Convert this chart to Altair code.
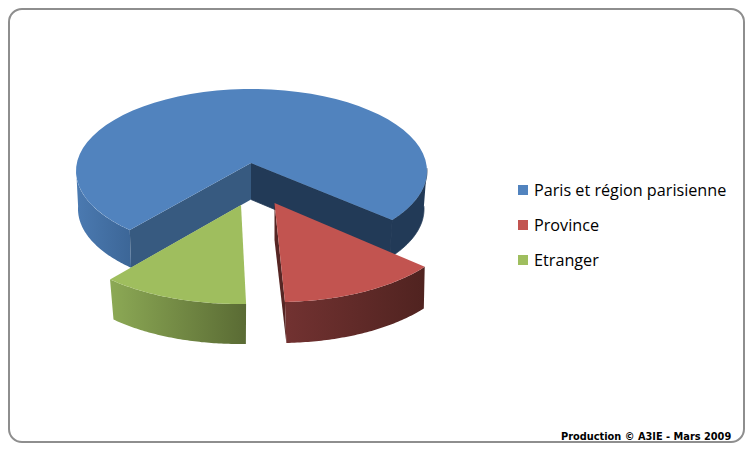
import numpy as np
import pandas as pd
import altair as alt

# --- values
categories = ["Paris et région parisienne", "Province", "Etranger"]
shares = [73.0, 14.2, 12.8]
colors = ["#5183BE", "#C25450", "#9FBE5E"]
credit = ["Production © A3IE - Mars 2009"]

W, H = 745, 443
START = 133.9
xs = alt.Scale(domain=[8, W], range=[0, W - 8], nice=False, zero=False)
ys = alt.Scale(domain=[H, 8], range=[H - 8, 0], nice=False, zero=False)


def arc(c, r, a, b, n=60):
    t = np.radians(np.linspace(a, b, n))
    return list(c[0] + r[0] * np.cos(t)), list(c[1] + r[1] * np.sin(t))


def frame(px, py):
    return pd.DataFrame({"x": px, "y": py, "o": range(len(px))})


def face(px, py, fill, seam=None):
    return alt.Chart(frame(px, py)).mark_line(
        fill=fill, strokeWidth=0.8 if seam else 0, stroke=seam or "transparent", interpolate="linear"
    ).encode(
        x=alt.X("x:Q", scale=xs, axis=None),
        y=alt.Y("y:Q", scale=ys, axis=None),
        order="o:Q",
    )


def hgrad(c0, c1):
    return alt.Gradient(gradient="linear", x1=0, y1=0, x2=1, y2=0,
                        stops=[alt.GradientStop(color=c0, offset=0), alt.GradientStop(color=c1, offset=1)])


def side(top_c, top_r, bot_c, bot_r, a, b, fill, seam=None):
    x1, y1 = arc(top_c, top_r, a, b)
    x2, y2 = arc(bot_c, bot_r, b, a)
    return face(x1 + x2, y1 + y2, fill, seam)


def wedge(apex, c, r, a, b, fill):
    x1, y1 = arc(c, r, a, b)
    return face([apex[0]] + x1, [apex[1]] + y1, fill)


angles = np.cumsum([START] + [s * 3.6 for s in shares])
a_blue = (angles[0], angles[1])
a_red = (angles[1], angles[2])
a_green = (angles[2], angles[3])

# blue
bc, br = (251.5, 171.0), (175.5, 82.0)
bc2, br2 = (251.0, 209.0), (173.0, 81.5)
apex_b, apex_b2 = (251.0, 163.0), (251.0, 199.5)
layers = [
    side(bc, br, bc2, br2, a_blue[0], 182, hgrad("#4B7AB1", "#3C6697")),
    side(bc, br, bc2, br2, 358, a_blue[1], "#223A57", "#223A57"),
]
lx, ly = arc(bc, br, a_blue[0], a_blue[0], 1)
lx2, ly2 = arc(bc2, br2, a_blue[0], a_blue[0], 1)
rx, ry = arc(bc, br, a_blue[1], a_blue[1], 1)
rx2, ry2 = arc(bc2, br2, a_blue[1], a_blue[1], 1)
layers += [
    face([apex_b[0], lx[0], lx2[0], apex_b2[0]], [apex_b[1], ly[0], ly2[0], apex_b2[1]], "#375A80"),
    face([apex_b[0], rx[0], rx2[0], apex_b2[0]], [apex_b[1], ry[0], ry2[0], apex_b2[1]], "#223A57", "#223A57"),
    wedge(apex_b, bc, br, a_blue[0], a_blue[1], colors[0]),
]

# red
rc, rr = (278.0, 214.5), (183.0, 87.5)
rc2, rr2 = (279.5, 257.0), (180.0, 86.0)
apex_r = (274.5, 203.0)
x_a, y_a = arc(rc, rr, a_red[1], a_red[1], 1)
x_b, y_b = arc(rc2, rr2, a_red[1], a_red[1], 1)
layers += [
    face([apex_r[0], x_a[0], x_b[0], apex_r[0]], [apex_r[1], y_a[0], y_b[0], apex_r[1] + 37], "#562624"),
    side(rc, rr, rc2, rr2, a_red[0], a_red[1], hgrad("#723231", "#502320")),
    wedge(apex_r, rc, rr, a_red[0], a_red[1], colors[1]),
]

# green
gc, gr = (239.0, 216.0), (186.0, 88.0)
gc2, gr2 = (239.0, 256.5), (181.0, 87.5)
apex_g = (241.0, 205.0)
layers += [
    side(gc, gr, gc2, gr2, a_green[0], a_green[1], hgrad("#8CA955", "#5A6B34")),
    wedge(apex_g, gc, gr, a_green[0], a_green[1], colors[2]),
]

# frame
border = alt.Chart(pd.DataFrame({"x": [9.0], "x2": [744.0], "y": [9.0], "y2": [442.0]})).mark_rect(
    fill="#FFFFFF", stroke="#8E8E8E", strokeWidth=2, cornerRadius=13
).encode(x=alt.X("x:Q", scale=xs, axis=None), x2="x2:Q", y=alt.Y("y:Q", scale=ys, axis=None), y2="y2:Q")

# legend
leg = pd.DataFrame({"name": categories, "col": colors, "x": [523] * 3, "y": [190, 225, 260], "tx": [534] * 3})
squares = alt.Chart(leg).mark_square(size=100, opacity=1, filled=True).encode(
    x=alt.X("x:Q", scale=xs, axis=None), y=alt.Y("y:Q", scale=ys, axis=None),
    color=alt.Color("col:N", scale=None),
)
labels = alt.Chart(leg).mark_text(align="left", baseline="middle", font="Open Sans", fontSize=16.2, dy=1, color="#000000").encode(
    x=alt.X("tx:Q", scale=xs, axis=None), y=alt.Y("y:Q", scale=ys, axis=None), text="name:N"
)
cred = alt.Chart(pd.DataFrame({"t": credit, "x": [561], "y": [437]})).mark_text(
    align="left", baseline="middle", font="DejaVu Sans", fontWeight="bold", fontSize=9.8, color="#000000"
).encode(x=alt.X("x:Q", scale=xs, axis=None), y=alt.Y("y:Q", scale=ys, axis=None), text="t:N")

chart = alt.layer(border, *layers, squares, labels, cred).properties(
    width=W - 8, height=H - 8, padding=0, autosize=alt.AutoSizeParams(type="none"), background="#FFFFFF"
).configure_view(stroke=None)

chart.save("out.html", embed_options={"renderer": "svg", "actions": False})
